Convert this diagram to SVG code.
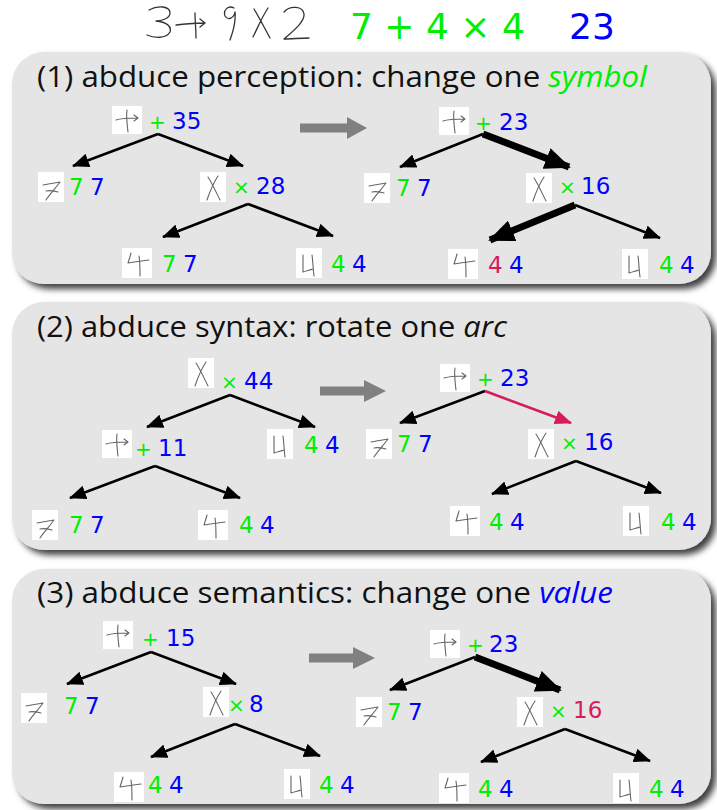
<svg xmlns="http://www.w3.org/2000/svg" xmlns:xlink="http://www.w3.org/1999/xlink" width="717" height="810" viewBox="0 0 717 810">
<style>
.panel{fill:#e5e5e5;filter:url(#sh)}
.title{font-family:"Open Sans","Noto Sans",sans-serif;font-size:30px;fill:#111}
.lbl{font-family:"DejaVu Sans",sans-serif;font-size:23px}
.op{font-size:20px}
.g{fill:#00ee00}
.b{fill:#0000ff}
.r{fill:#d81b5a}
.hw{fill:none;stroke:#666;stroke-width:1.1;stroke-linecap:round;stroke-linejoin:round}
.hwh{fill:none;stroke:#333;stroke-width:1.3;stroke-linecap:round;stroke-linejoin:round}
.box{fill:#fff}
.ln{fill:none;stroke:#000;stroke-width:2.6;marker-end:url(#ah)}
.thk{fill:none;stroke:#000;stroke-width:7;marker-end:url(#ahk)}
.rd{fill:none;stroke:#d81b5a;stroke-width:2.6;marker-end:url(#ahr)}
.garr{fill:#808080}
</style>
<defs>
<filter id="sh" x="-5%" y="-5%" width="112%" height="115%">
<feDropShadow dx="5" dy="5" stdDeviation="3" flood-color="#000" flood-opacity="0.75"/>
</filter>
<marker id="ah" markerUnits="userSpaceOnUse" markerWidth="17" markerHeight="14" viewBox="0 0 17 14" refX="16" refY="7" orient="auto"><path d="M0,0 L17,7 L0,14 z" fill="#000"/></marker>
<marker id="ahr" markerUnits="userSpaceOnUse" markerWidth="17" markerHeight="14" viewBox="0 0 17 14" refX="16" refY="7" orient="auto"><path d="M0,0 L17,7 L0,14 z" fill="#d81b5a"/></marker>
<marker id="ahk" markerUnits="userSpaceOnUse" markerWidth="26" markerHeight="22" viewBox="0 0 26 22" refX="24" refY="11" orient="auto"><path d="M0,0 L26,11 L0,22 z" fill="#000"/></marker>
<g id="hw-plus"><rect class="box" width="30" height="28"/><path class="hw" d="M4 14 C10 12 18 12 25 12 M22 9 L26 12 L22 15 M15 4 C14 10 15 18 16 26"/></g>
<g id="hw-times"><rect class="box" width="26" height="30"/><path class="hw" d="M8 5 C12 11 16 20 20 28 M18 4 C14 10 10 19 7 28"/></g>
<g id="hw-seven"><rect class="box" width="26" height="30"/><path class="hw" d="M5 13 C10 12 16 11 22 10 C17 17 12 22 8 28 M8 19 C12 18 16 19 20 20"/></g>
<g id="hw-fourA"><rect class="box" width="30" height="30"/><path class="hw" d="M9 5 C8 9 7 12 6 15 C12 14 19 13 27 12 M17 8 C18 14 18 21 18 28"/></g>
<g id="hw-fourB"><rect class="box" width="26" height="30"/><path class="hw" d="M7 7 C7 12 7 18 7 24 C10 23 14 22 17 21 M16 7 C17 14 17 21 18 28"/></g>
</defs>
<rect width="717" height="810" fill="#fff"/>

<g id="header">
<path class="hwh" d="M149 10 C158 5 170 6 170 13 C170 19 160 21 156 21 C166 22 172 26 170 32 C166 39 154 38 147 35 M176 25 C185 24 193 23 204 23 M200 19 L205 23 L200 27 M195 13 C195 21 196 30 196 38 M234 8 C228 5 223 10 225 16 C228 21 234 18 235 12 C236 22 233 32 230 40 M254 9 C259 17 264 27 270 38 M268 8 C262 17 258 27 253 37 M284 12 C290 5 303 6 304 14 C305 22 292 32 284 39 C292 39 300 38 309 38"/>
<text class="lbl g" x="350" y="39" style="font-size:36px">7 + 4 × 4</text>
<text class="lbl b" x="569" y="39" style="font-size:36px">23</text>
</g>

<g id="panels">
<rect class="panel" x="12" y="52" width="699" height="232" rx="32"/>
<rect class="panel" x="12" y="302" width="699" height="248" rx="32"/>
<rect class="panel" x="12" y="569" width="699" height="235" rx="32"/>
</g>

<g id="titles">
<text class="title" x="37" y="87" textLength="610" lengthAdjust="spacingAndGlyphs">(1) abduce perception: change one <tspan class="g" font-style="italic">symbol</tspan></text>
<text class="title" x="37" y="337" textLength="470" lengthAdjust="spacingAndGlyphs">(2) abduce syntax: rotate one <tspan font-style="italic">arc</tspan></text>
<text class="title" x="37" y="603" textLength="576" lengthAdjust="spacingAndGlyphs">(3) abduce semantics: change one <tspan class="b" font-style="italic">value</tspan></text>
</g>

<g id="step-arrows">
<polygon class="garr" points="300,123.5 347,123.5 347,117 367,128 347,139 347,132.5 300,132.5"/>
<polygon class="garr" points="320,386.5 364,386.5 364,380 386,391 364,402 364,395.5 320,395.5"/>
<polygon class="garr" points="309,653.5 353,653.5 353,647 375,658 353,669 353,662.5 309,662.5"/>
</g>

<g id="connectors">
<path class="ln" d="M158,134 L73,166"/>
<path class="ln" d="M158,134 L243,166"/>
<path class="ln" d="M248,204 L163,237"/>
<path class="ln" d="M248,204 L333,236"/>
<path class="ln" d="M483,134 L400,167"/>
<path class="thk" d="M483,134 L569,167"/>
<path class="thk" d="M575,205 L490,240"/>
<path class="ln" d="M575,205 L660,238"/>

<path class="ln" d="M230,395 L147,427"/>
<path class="ln" d="M230,395 L315,427"/>
<path class="ln" d="M155,466 L70,498"/>
<path class="ln" d="M155,466 L240,498"/>
<path class="ln" d="M485,391 L400,423"/>
<path class="rd" d="M485,391 L571,423"/>
<path class="ln" d="M576,461 L492,494"/>
<path class="ln" d="M576,461 L661,493"/>

<path class="ln" d="M151,652 L67,684"/>
<path class="ln" d="M151,652 L236,684"/>
<path class="ln" d="M235,724 L151,757"/>
<path class="ln" d="M235,724 L320,756"/>
<path class="ln" d="M475,657 L390,690"/>
<path class="thk" d="M475,657 L560,690"/>
<path class="ln" d="M565,729 L481,762"/>
<path class="ln" d="M565,729 L650,761"/>
</g>

<!-- Panel 1 left -->
<g id="p1l-root"><use xlink:href="#hw-plus" x="112" y="106"/><text class="lbl" y="129"><tspan class="g op" x="149">+</tspan><tspan class="b" x="172">35</tspan></text></g>
<g id="p1l-7"><use xlink:href="#hw-seven" x="38" y="172"/><text class="lbl" y="195"><tspan class="g" x="69">7</tspan><tspan class="b" x="90">7</tspan></text></g>
<g id="p1l-times"><use xlink:href="#hw-times" x="200" y="172"/><text class="lbl" y="194"><tspan class="g op" x="233">×</tspan><tspan class="b" x="256">28</tspan></text></g>
<g id="p1l-4a"><use xlink:href="#hw-fourA" x="122" y="248"/><text class="lbl" y="272"><tspan class="g" x="162">7</tspan><tspan class="b" x="183">7</tspan></text></g>
<g id="p1l-4b"><use xlink:href="#hw-fourB" x="296" y="248"/><text class="lbl" y="272"><tspan class="g" x="331">4</tspan><tspan class="b" x="352">4</tspan></text></g>

<!-- Panel 1 right -->
<g id="p1r-root"><use xlink:href="#hw-plus" x="439" y="107"/><text class="lbl" y="130"><tspan class="g op" x="475">+</tspan><tspan class="b" x="499">23</tspan></text></g>
<g id="p1r-7"><use xlink:href="#hw-seven" x="364" y="173"/><text class="lbl" y="196"><tspan class="g" x="396">7</tspan><tspan class="b" x="417">7</tspan></text></g>
<g id="p1r-times"><use xlink:href="#hw-times" x="526" y="173"/><text class="lbl" y="194"><tspan class="g op" x="559">×</tspan><tspan class="b" x="581">16</tspan></text></g>
<g id="p1r-4a"><use xlink:href="#hw-fourA" x="448" y="249"/><text class="lbl" y="273"><tspan class="r" x="488">4</tspan><tspan class="b" x="509">4</tspan></text></g>
<g id="p1r-4b"><use xlink:href="#hw-fourB" x="622" y="249"/><text class="lbl" y="273"><tspan class="g" x="659">4</tspan><tspan class="b" x="680">4</tspan></text></g>

<!-- Panel 2 left -->
<g id="p2l-root"><use xlink:href="#hw-times" x="188" y="358"/><text class="lbl" y="389"><tspan class="g op" x="221">×</tspan><tspan class="b" x="244">44</tspan></text></g>
<g id="p2l-plus"><use xlink:href="#hw-plus" x="102" y="430"/><text class="lbl" y="456"><tspan class="g op" x="135">+</tspan><tspan class="b" x="158">11</tspan></text></g>
<g id="p2l-4b"><use xlink:href="#hw-fourB" x="267" y="429"/><text class="lbl" y="453"><tspan class="g" x="304">4</tspan><tspan class="b" x="325">4</tspan></text></g>
<g id="p2l-7"><use xlink:href="#hw-seven" x="32" y="510"/><text class="lbl" y="533"><tspan class="g" x="69">7</tspan><tspan class="b" x="90">7</tspan></text></g>
<g id="p2l-4a"><use xlink:href="#hw-fourA" x="198" y="510"/><text class="lbl" y="533"><tspan class="g" x="239">4</tspan><tspan class="b" x="260">4</tspan></text></g>

<!-- Panel 2 right -->
<g id="p2r-root"><use xlink:href="#hw-plus" x="440" y="364"/><text class="lbl" y="386"><tspan class="g op" x="477">+</tspan><tspan class="b" x="500">23</tspan></text></g>
<g id="p2r-7"><use xlink:href="#hw-seven" x="366" y="429"/><text class="lbl" y="452"><tspan class="g" x="397">7</tspan><tspan class="b" x="418">7</tspan></text></g>
<g id="p2r-times"><use xlink:href="#hw-times" x="528" y="429"/><text class="lbl" y="450"><tspan class="g op" x="561">×</tspan><tspan class="b" x="584">16</tspan></text></g>
<g id="p2r-4a"><use xlink:href="#hw-fourA" x="450" y="506"/><text class="lbl" y="530"><tspan class="g" x="489">4</tspan><tspan class="b" x="510">4</tspan></text></g>
<g id="p2r-4b"><use xlink:href="#hw-fourB" x="623" y="506"/><text class="lbl" y="530"><tspan class="g" x="661">4</tspan><tspan class="b" x="682">4</tspan></text></g>

<!-- Panel 3 left -->
<g id="p3l-root"><use xlink:href="#hw-plus" x="103" y="621"/><text class="lbl" y="646"><tspan class="g op" x="142">+</tspan><tspan class="b" x="166">15</tspan></text></g>
<g id="p3l-7"><use xlink:href="#hw-seven" x="21" y="693"/><text class="lbl" y="714"><tspan class="g" x="64">7</tspan><tspan class="b" x="85">7</tspan></text></g>
<g id="p3l-times"><use xlink:href="#hw-times" x="203" y="687"/><text class="lbl" y="712"><tspan class="g op" x="228">×</tspan><tspan class="b" x="249">8</tspan></text></g>
<g id="p3l-4a"><use xlink:href="#hw-fourA" x="114" y="772"/><text class="lbl" y="793"><tspan class="g" x="148">4</tspan><tspan class="b" x="169">4</tspan></text></g>
<g id="p3l-4b"><use xlink:href="#hw-fourB" x="284" y="769"/><text class="lbl" y="793"><tspan class="g" x="319">4</tspan><tspan class="b" x="340">4</tspan></text></g>

<!-- Panel 3 right -->
<g id="p3r-root"><use xlink:href="#hw-plus" x="430" y="630"/><text class="lbl" y="652"><tspan class="g op" x="467">+</tspan><tspan class="b" x="489">23</tspan></text></g>
<g id="p3r-7"><use xlink:href="#hw-seven" x="356" y="697"/><text class="lbl" y="720"><tspan class="g" x="387">7</tspan><tspan class="b" x="408">7</tspan></text></g>
<g id="p3r-times"><use xlink:href="#hw-times" x="517" y="697"/><text class="lbl" y="718"><tspan class="g op" x="550">×</tspan><tspan class="r" x="573">16</tspan></text></g>
<g id="p3r-4a"><use xlink:href="#hw-fourA" x="439" y="773"/><text class="lbl" y="797"><tspan class="g" x="478">4</tspan><tspan class="b" x="499">4</tspan></text></g>
<g id="p3r-4b"><use xlink:href="#hw-fourB" x="613" y="773"/><text class="lbl" y="797"><tspan class="g" x="649">4</tspan><tspan class="b" x="670">4</tspan></text></g>
</svg>
